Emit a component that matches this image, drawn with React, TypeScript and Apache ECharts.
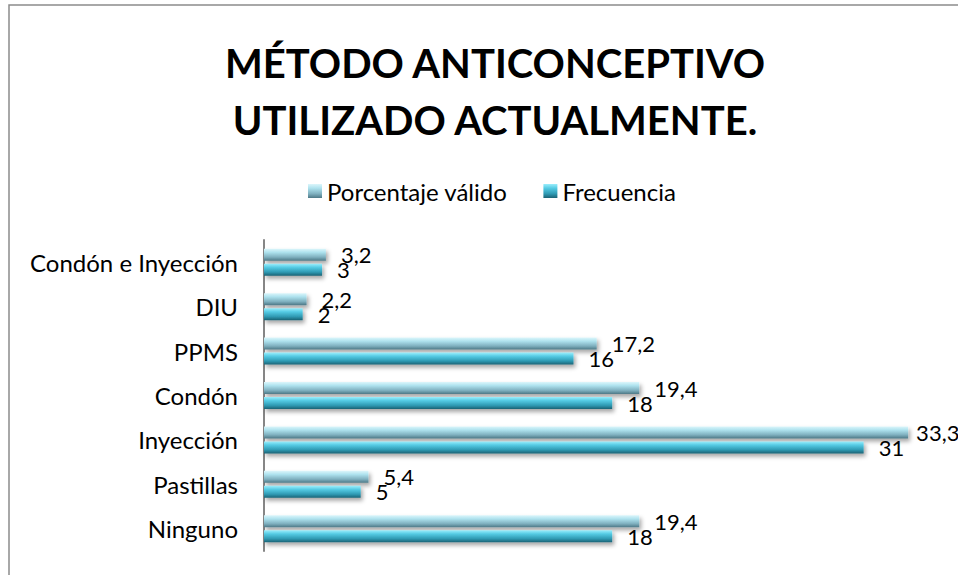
import React, { useEffect, useRef } from "react";
import * as echarts from "echarts";

const categories = ["Ninguno", "Pastillas", "Inyección", "Condón", "PPMS", "DIU", "Condón e Inyección"];
const porcentajeValido = [19.4, 5.4, 33.3, 19.4, 17.2, 2.2, 3.2];
const frecuencia = [18, 5, 31, 18, 16, 2, 3];
const seriesNames = ["Porcentaje válido", "Frecuencia"];
const titleLines = ["MÉTODO ANTICONCEPTIVO", "UTILIZADO ACTUALMENTE."];

const FONT = "Lato";

const fmt = (v: number) => String(v).replace(".", ",");

const gradPct = new echarts.graphic.LinearGradient(0, 0, 0, 1, [
  { offset: 0, color: "#dcf6fb" },
  { offset: 0.3, color: "#aee2ee" },
  { offset: 0.7, color: "#7fb0bf" },
  { offset: 1, color: "#4d7886" },
]);
const gradFrec = new echarts.graphic.LinearGradient(0, 0, 0, 1, [
  { offset: 0, color: "#9beefc" },
  { offset: 0.3, color: "#55cbe4" },
  { offset: 0.7, color: "#2f9ab3" },
  { offset: 1, color: "#1b6274" },
]);

export default function App() {
  const ref = useRef<HTMLDivElement>(null);
  useEffect(() => {
    if (!ref.current) return;
    const chart = echarts.init(ref.current, undefined, { renderer: "svg" });
    const labelStyle = {
      show: true,
      position: "right" as const,
      distance: 15,
      color: "#000",
      fontFamily: FONT,
      fontSize: 22,
      formatter: (p: any) => fmt(p.value),
    };
    const shadow = {
      shadowColor: "rgba(0,0,0,0.35)",
      shadowBlur: 4,
      shadowOffsetX: 2,
      shadowOffsetY: 3,
    };
    chart.setOption({
      animation: false,
      backgroundColor: "#fff",
      title: {
        text: titleLines.join("\n"),
        left: 490,
        top: 29,
        textAlign: "center",
        textStyle: {
          fontFamily: FONT,
          fontWeight: "bold",
          fontSize: 40,
          lineHeight: 57,
          color: "#000",
        },
      },
      legend: {
        data: seriesNames,
        top: 174,
        left: 303,
        icon: "rect",
        itemWidth: 14,
        itemHeight: 14,
        itemGap: 36,
        textStyle: { fontFamily: FONT, fontSize: 24, color: "#000" },
      },
      graphic: [
        {
          type: "rect",
          shape: { x: 9, y: 5, width: 1000, height: 1000 },
          style: { fill: "none", stroke: "#8c8c8c", lineWidth: 1.5 },
          silent: true,
        },
      ],
      grid: { left: 264, top: 240, width: 677, height: 311, containLabel: false },
      xAxis: {
        type: "value",
        min: 0,
        max: 35,
        show: false,
      },
      yAxis: {
        type: "category",
        data: categories,
        axisLine: { lineStyle: { color: "#868686", width: 2 } },
        axisTick: { show: false },
        axisLabel: { fontFamily: FONT, fontSize: 24, color: "#000", margin: 26 },
      },
      series: [
        {
          name: seriesNames[0],
          type: "bar",
          data: porcentajeValido.map((v, i) =>
            categories[i] === "Inyección" ? { value: v, label: { distance: 8 } } : v
          ),
          barWidth: 12,
          barGap: "25%",
          itemStyle: { color: gradPct, ...shadow },
          label: labelStyle,
        },
        {
          name: seriesNames[1],
          type: "bar",
          data: frecuencia,
          barWidth: 12,
          barGap: "25%",
          itemStyle: { color: gradFrec, ...shadow },
          label: labelStyle,
        },
      ],
    });
    return () => chart.dispose();
  }, []);
  return (
    <div
      ref={ref}
      style={{ position: "fixed", left: 0, top: 0, width: 958, height: 575 }}
    />
  );
}
